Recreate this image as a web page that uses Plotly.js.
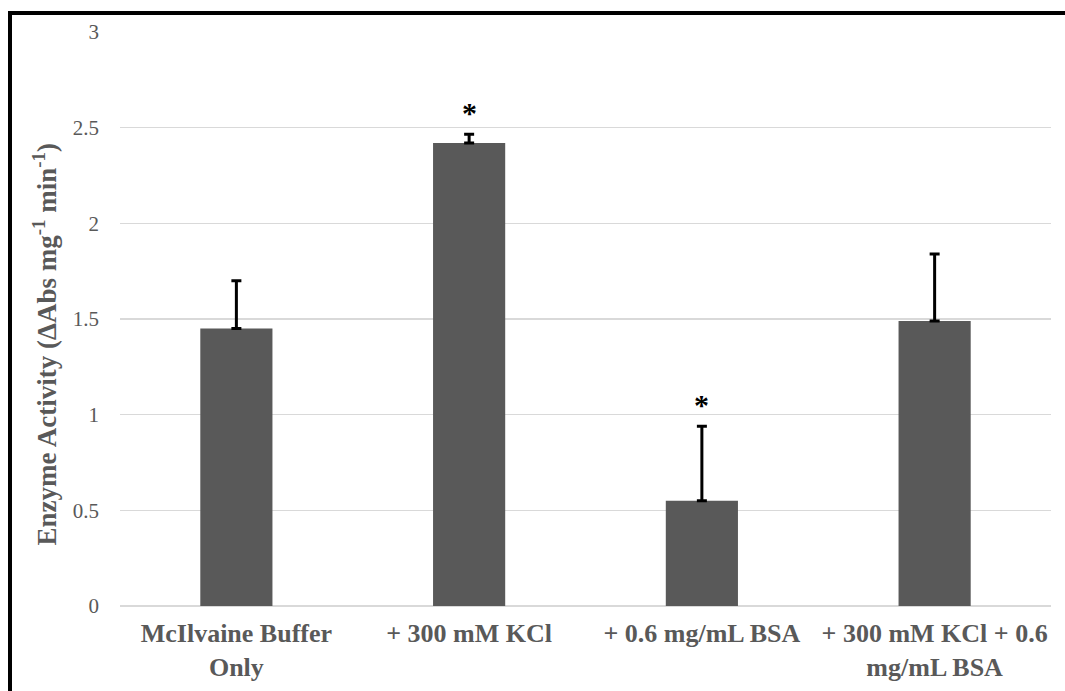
<!DOCTYPE html>
<html>
<head>
<meta charset="utf-8">
<script src="https://cdn.plot.ly/plotly-3.0.1.min.js"></script>
<style>
  html, body { margin: 0; padding: 0; background: #fff; overflow: hidden; }
  #chart { width: 1065px; height: 691px; }
  #frame { position: absolute; left: 8px; top: 11px; width: 2000px; height: 2000px;
           border-left: 4px solid #000; border-top: 4px solid #000; pointer-events: none; }
</style>
</head>
<body>
<div id="chart"></div>
<div id="frame"></div>
<script>
const categories = [
  "McIlvaine Buffer<br>Only",
  "+ 300 mM KCl",
  "+ 0.6 mg/mL BSA",
  "+ 300 mM KCl + 0.6<br>mg/mL BSA"
];
const activity = [1.45, 2.42, 0.55, 1.49];
const errorPlus = [0.25, 0.045, 0.39, 0.35];
const significant = [false, true, true, false];
const yTicks = [0, 0.5, 1, 1.5, 2, 2.5, 3];

const trace = {
  type: "bar",
  x: categories,
  y: activity,
  width: 0.31,
  marker: { color: "#595959" },
  error_y: {
    type: "data",
    symmetric: false,
    array: errorPlus,
    arrayminus: activity.map(() => 0),
    color: "#000000",
    thickness: 3,
    width: 5
  },
  hoverinfo: "skip"
};

const annotations = [];
categories.forEach((c, i) => {
  if (significant[i]) {
    annotations.push({
      x: c, y: activity[i] + errorPlus[i],
      xref: "x", yref: "y",
      text: "<b>*</b>",
      showarrow: false,
      yanchor: "bottom",
      yshift: 3,
      font: { family: "Liberation Serif", size: 30, color: "#000" }
    });
  }
});
annotations.push({
  xref: "paper", yref: "paper",
  x: -0.081, y: 0.455,
  xanchor: "center", yanchor: "middle",
  textangle: -90,
  showarrow: false,
  text: "<b>Enzyme Activity (ΔAbs mg<sup>-1</sup> min<sup>-1</sup>)</b>",
  font: { family: "Liberation Serif", size: 27, color: "#595959" }
});

const layout = {
  width: 1065, height: 691,
  margin: { l: 120, r: 14, t: 32, b: 85 },
  paper_bgcolor: "#ffffff",
  plot_bgcolor: "#ffffff",
  showlegend: false,
  xaxis: {
    type: "category",
    tickfont: { family: "Liberation Serif", size: 26, color: "#595959", weight: "bold" },
    showgrid: false,
    showline: false,
    ticks: "",
    zeroline: false,
    ticklabelstandoff: 9
  },
  yaxis: {
    range: [0, 3],
    tickvals: yTicks,
    ticktext: yTicks.map(String),
    tickfont: { family: "Liberation Serif", size: 21, color: "#595959" },
    showgrid: true,
    gridcolor: "#d9d9d9",
    gridwidth: 1.5,
    zeroline: true,
    zerolinecolor: "#d9d9d9",
    zerolinewidth: 1.5,
    showline: false,
    ticks: "",
    ticklabelstandoff: 20
  },
  annotations: annotations
};

Plotly.newPlot("chart", [trace], layout, { displayModeBar: false, staticPlot: true });
</script>
</body>
</html>
